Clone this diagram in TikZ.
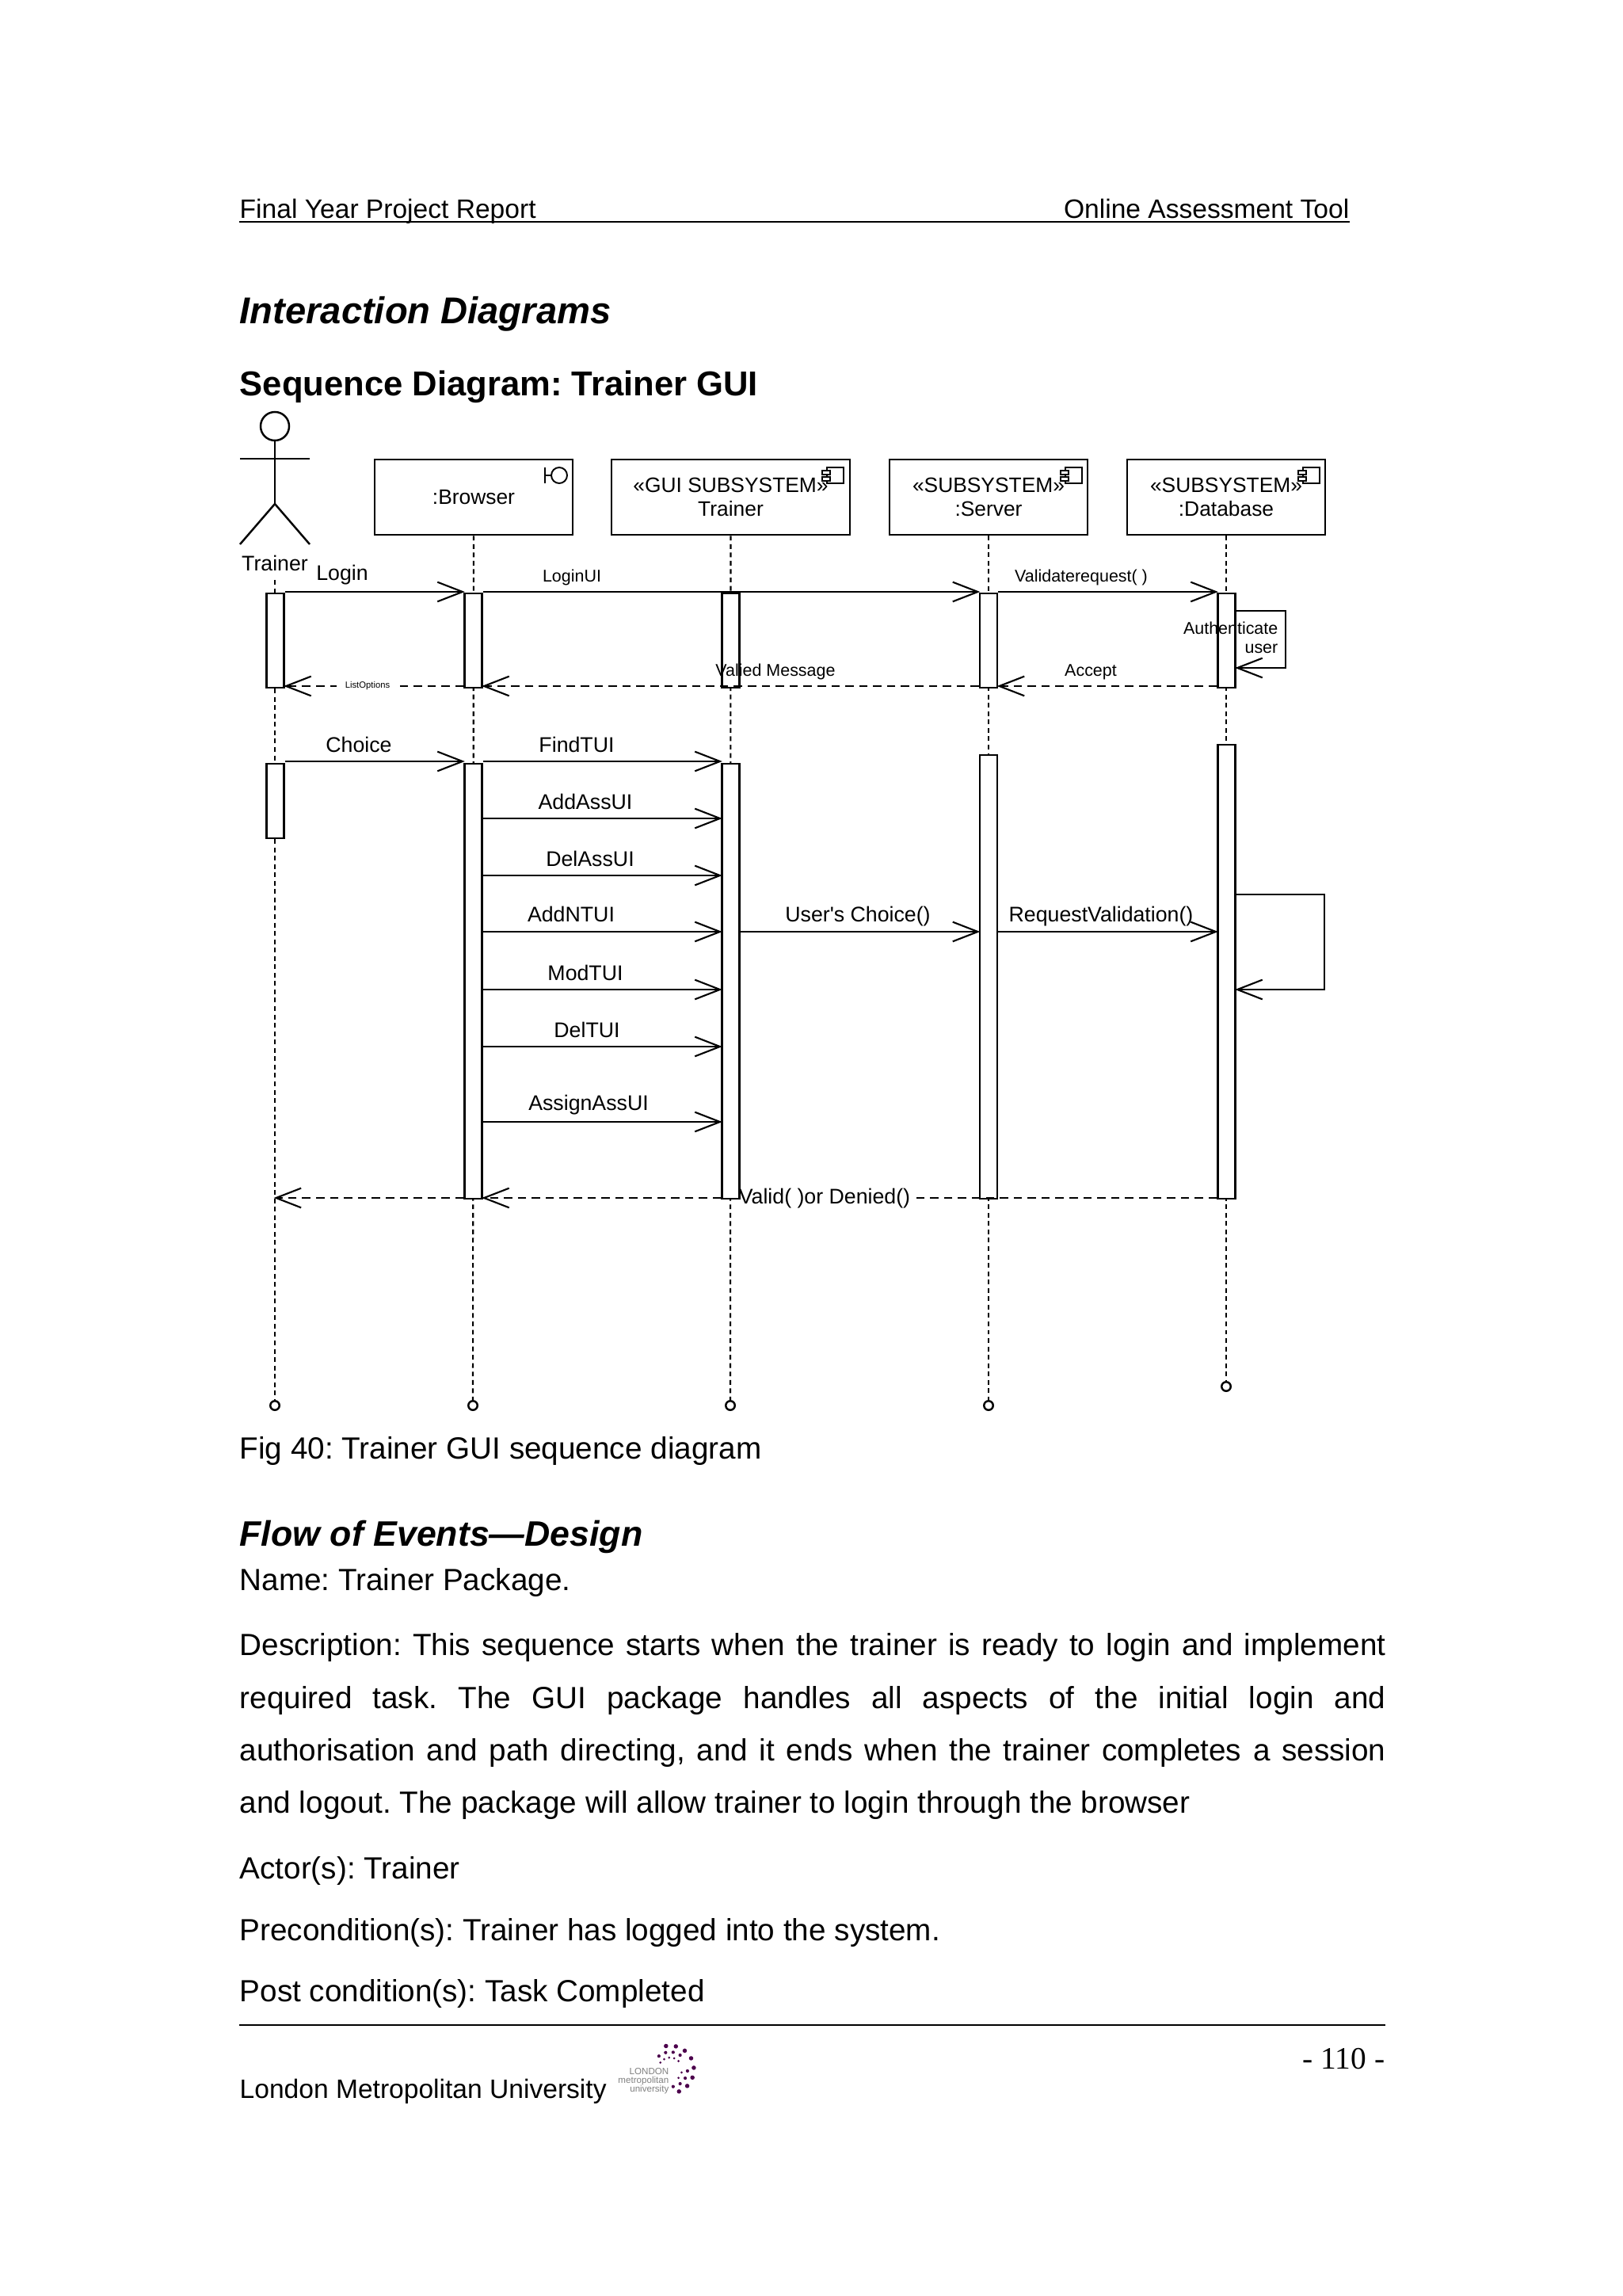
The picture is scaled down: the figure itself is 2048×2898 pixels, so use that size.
\documentclass[tikz,border=0pt]{standalone}
\usepackage{fontspec}
\setmainfont{Liberation Sans}
\newfontfamily\pageserif{Liberation Serif}
\usetikzlibrary{arrows.meta}
\frenchspacing

\begin{document}
\begin{tikzpicture}[
  x=0.01cm, y=-0.01cm,
  every node/.style={inner sep=0pt},
  headbox/.style={draw, line width=0.7pt, minimum width=#1, minimum height=0.95cm, align=center, font=\fontsize{7.5}{8.3}\selectfont},
  headbox/.default=2.5cm,
  bar/.style={draw, fill=white, line width=0.6pt, minimum width=0.22cm, anchor=north},
  endmark/.style={draw, circle, line width=0.7pt, fill=white, minimum size=0.115cm},
  life/.style={line width=0.6pt, dash pattern=on 1.7pt off 1.3pt},
  msg/.style={line width=0.7pt, shorten >=-0.4pt, -{Straight Barb[length=9pt,width=7pt,line width=0.6pt]}},
  reply/.style={msg, dash pattern=on 3pt off 2pt},
  biglabel/.style={font=\fontsize{7.6}{8.4}\selectfont},
  smalllabel/.style={font=\fontsize{6.1}{7}\selectfont},
  pagetext/.style={anchor=base west, font=\fontsize{11}{14}\selectfont},
  pagehead/.style={anchor=base west, font=\fontsize{13.4}{16}\selectfont\bfseries\itshape},
  smalltext/.style={anchor=base west, font=\fontsize{9.55}{12}\selectfont},
  logodot/.style={fill=violet!60!black, circle, minimum size=#1},
]
\useasboundingbox (0,0) rectangle (2048,2898);

% Page header.
\node[smalltext] (hleft) at (302,276) {Final Year Project Report};
\node[smalltext, anchor=base east] (hright) at (1704,276) {Online Assessment Tool};
\draw[line width=0.7pt] (302,280) -- (1704,280);
\node[pagehead] (title) at (302,409) {Interaction Diagrams};
\node[pagetext, font=\fontsize{12.4}{15}\selectfont\bfseries] (subtitle) at (302,500) {Sequence Diagram: Trainer GUI};

% Actor.
\node[draw, circle, line width=0.7pt, minimum size=0.36cm] (head) at (347,538) {};
\coordinate (hip) at (347,636);
\coordinate (armL) at (303,579);
\coordinate (armR) at (391,579);
\coordinate (footL) at (303,687);
\coordinate (footR) at (391,687);
\draw[line width=0.7pt] (head) -- (hip);
\draw[line width=0.7pt] (armL) -- (armR);
\draw[line width=0.7pt] (footL) -- (hip) -- (footR);
\node[biglabel] (trainer) at (347,711) {Trainer};

% Heads of the lifelines.
\node[headbox] (browser) at (598,627.5) {:Browser};
\node[headbox=3.01cm] (gui) at (922.5,627.5) {«GUI SUBSYSTEM»\\Trainer};
\node[headbox] (server) at (1248,627.5) {«SUBSYSTEM»\\:Server};
\node[headbox] (database) at (1548,627.5) {«SUBSYSTEM»\\:Database};

% Small icons in the corners of the heads.
\draw[line width=0.55pt] (688,590) -- (688,610) (688,600) -- (696,600);
\draw[line width=0.55pt] (706,600) circle (10 and 10);
\foreach \cx in {1065,1366,1666} {
  \draw[line width=0.55pt, fill=white] (\cx-21,590) rectangle (\cx,610);
  \draw[line width=0.55pt, fill=white] (\cx-27,594) rectangle (\cx-17,599);
  \draw[line width=0.55pt, fill=white] (\cx-27,602) rectangle (\cx-17,607);
}

% Lifelines.
\node[endmark] (endT) at (347,1774) {};
\node[endmark] (endB) at (597,1774) {};
\node[endmark] (endG) at (922,1774) {};
\node[endmark] (endS) at (1248,1774) {};
\node[endmark] (endD) at (1548,1750) {};
\coordinate (startT) at (347,732);
\draw[life] (startT) -- (endT);
\draw[life] (browser) -- (endB);
\draw[life] (gui) -- (endG);
\draw[life] (server) -- (endS);
\draw[life] (database) -- (endD);

% Activations, first group.
\node[bar, minimum height=1.19cm] (barT) at (347.5,748) {};
\node[bar, minimum height=1.19cm] (barB) at (597.5,748) {};
\node[bar, minimum height=1.19cm] (barG) at (922.5,748) {};
\node[bar, minimum height=1.19cm] (barS) at (1248,748) {};
\node[bar, minimum height=1.19cm] (barD) at (1548.5,748) {};

\draw[msg] (barT.east |- 0,747) -- (barB.west |- 0,747);
\draw[msg] (barB.east |- 0,747) -- (barS.west |- 0,747);
\draw[msg] (barS.east |- 0,747) -- (barD.west |- 0,747);
\coordinate (selfA) at (1623,771);
\coordinate (selfB) at (1623,843);
\draw[msg] (barD.east |- selfA) -- (selfA) -- (selfB) -- (barD.east |- selfB);
\draw[reply] (barD.west |- 0,866) -- (barS.east |- 0,866);
\draw[reply] (barS.west |- 0,866) -- (barB.east |- 0,866);
\draw[reply] (barB.west |- 0,866) -- (barT.east |- 0,866);

\node[biglabel] (login) at (432,726) {Login};
\node[smalllabel] (loginui) at (722,729) {LoginUI};
\node[smalllabel] (validate) at (1365,729) {Validaterequest( )};
\node[smalllabel, align=right, anchor=east] (auth) at (1614,805) {Authenticate\\user};
\node[smalllabel] (accept) at (1377,848) {Accept};
\node[smalllabel] (valied) at (979,848) {Valied Message};
\node[font=\fontsize{3.2}{4}\selectfont, fill=white, inner xsep=3pt, inner ysep=1pt] (listopt) at (464,866) {ListOptions};

% Activations, second group.
\node[bar, minimum height=0.94cm] (barT2) at (347.5,963) {};
\node[bar, minimum height=5.49cm] (barB2) at (597.5,963) {};
\node[bar, minimum height=5.49cm] (barG2) at (922.5,963) {};
\node[bar, minimum height=5.60cm] (barS2) at (1248,952) {};
\node[bar, minimum height=5.73cm] (barD2) at (1548.5,939) {};

\draw[msg] (barT2.east |- 0,961) -- (barB2.west |- 0,961);
\draw[msg] (barB2.east |- 0,961) -- (barG2.west |- 0,961);
\foreach \my in {1033,1105,1176,1249,1321,1416}
  \draw[msg] (barB2.east |- 0,\my) -- (barG2.west |- 0,\my);
\draw[msg] (barG2.east |- 0,1176) -- (barS2.west |- 0,1176);
\draw[msg] (barS2.east |- 0,1176) -- (barD2.west |- 0,1176);
\coordinate (loopA) at (1672,1129);
\coordinate (loopB) at (1672,1249);
\draw[msg] (barD2.east |- loopA) -- (loopA) -- (loopB) -- (barD2.east |- loopB);

\node[biglabel] (validor) at (1041,1513) {Valid( )or Denied()};
\draw[line width=0.7pt, dash pattern=on 3pt off 2pt] (barD2.west |- 0,1512) -- (validor.east |- 0,1512);
\draw[reply] (barG2.west |- 0,1512) -- (barB2.east |- 0,1512);
\draw[reply] (barB2.west |- 0,1512) -- (endT |- 0,1512);

\node[biglabel] (choice) at (453,940) {Choice};
\node[biglabel] (findtui) at (728,940) {FindTUI};
\node[biglabel] (addass) at (739,1012) {AddAssUI};
\node[biglabel] (delass) at (745,1084) {DelAssUI};
\node[biglabel] (addnt) at (721,1154) {AddNTUI};
\node[biglabel] (modt) at (739,1228) {ModTUI};
\node[biglabel] (delt) at (741,1300) {DelTUI};
\node[biglabel] (assign) at (743,1395) {AssignAssUI};
\node[biglabel] (userch) at (1083,1157) {User\textquotesingle s Choice()};
\node[biglabel] (reqval) at (1390,1157) {RequestValidation()};

% Text of the page.
\node[pagetext] (caption) at (302,1841) {Fig 40: Trainer GUI sequence diagram};
\node[pagehead, font=\fontsize{12.7}{16}\selectfont\bfseries\itshape] (flow) at (302,1951) {Flow of Events---Design};
\node[pagetext] (name) at (302,2007) {Name: Trainer Package.};
\node[anchor=north west, text width=14.46cm, align=justify, font=\fontsize{11}{18.85}\selectfont] (descr) at (302,2061)
  {\hyphenpenalty=10000 Description: This sequence starts when the trainer is ready to login and implement\linebreak required task. The GUI package handles all aspects of the initial login and\linebreak authorisation and path directing, and it ends when the trainer completes a session\linebreak and logout. The package will allow trainer to login through the browser};
\node[pagetext] (actor) at (302,2371) {Actor(s): Trainer};
\node[pagetext] (precond) at (302,2449) {Precondition(s): Trainer has logged into the system.};
\node[pagetext] (postcond) at (302,2526) {Post condition(s): Task Completed};

% Page footer.
\draw[line width=0.7pt] (302,2556) -- (1749,2556);
\node[smalltext] (uni) at (302,2648) {London Metropolitan University};
\node[anchor=base east, font=\pageserif\fontsize{11.2}{14}\selectfont] (pageno) at (1749,2611) {- 110 -};

% Logo.
\foreach \ang in {100,76,52,28,4,-20,-44,-68}
  \node[logodot=0.055cm] at ({846+30*cos(\ang)},{2612-30*sin(\ang)}) {};
\foreach \ang in {130,105,80,55,-5,-30,-55,-80}
  \node[logodot=0.042cm] at ({846+22*cos(\ang)},{2612-22*sin(\ang)}) {};
\foreach \ang in {145,120,95,70,45,-15,-45}
  \node[logodot=0.03cm] at ({846+15*cos(\ang)},{2612-15*sin(\ang)}) {};
\node[anchor=east, text=gray, font=\fontsize{3.3}{4}\selectfont] (lg1) at (845,2614) {LONDON};
\node[anchor=east, text=gray, font=\fontsize{3.3}{4}\selectfont] (lg2) at (845,2626) {metropolitan};
\node[anchor=east, text=gray, font=\fontsize{3.3}{4}\selectfont] (lg3) at (845,2637) {university};

\end{tikzpicture}
\end{document}
